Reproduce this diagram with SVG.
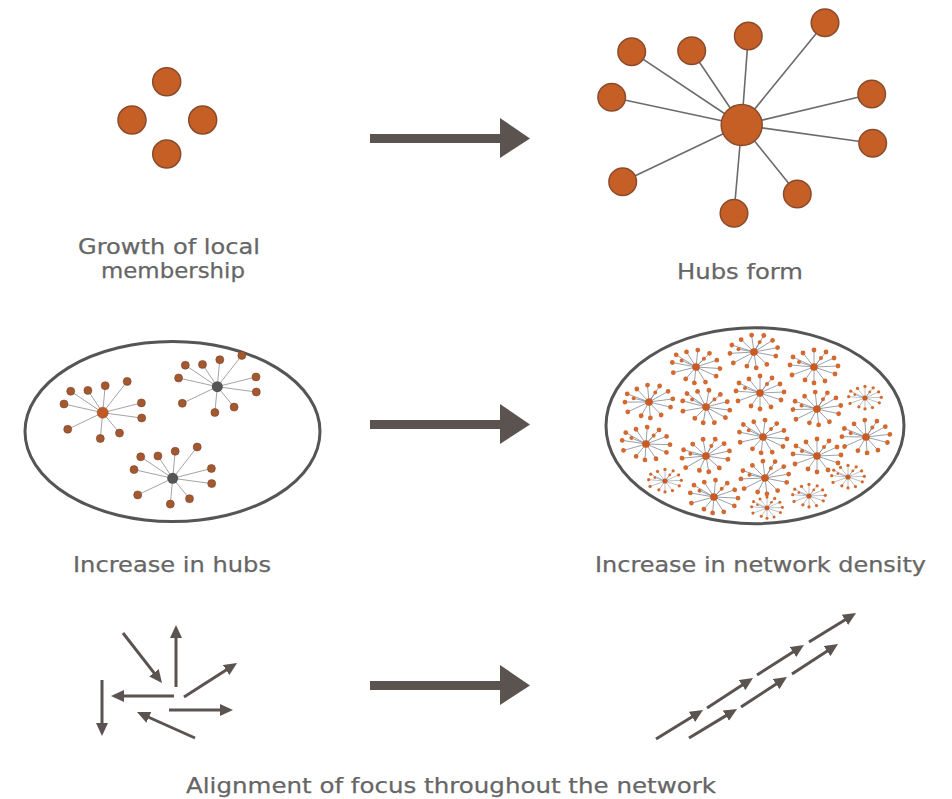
<svg xmlns="http://www.w3.org/2000/svg" xmlns:xlink="http://www.w3.org/1999/xlink" width="952" height="799" viewBox="0 0 952 799">
<style>
.lbl{font-family:"DejaVu Sans","Liberation Sans",sans-serif;font-size:21.5px;fill:#666;stroke:#666;stroke-width:0.25}
.sat{fill:#c65f26;stroke:#8a4b2c;stroke-width:1.5}
.spoke{stroke:#6b6b6b;stroke-width:1.6;fill:none}
.big{fill:#5b5350}
.sm{stroke:#5b5350;stroke-width:3;fill:none;marker-end:url(#ah)}
.ell{fill:#fff;stroke:#555;stroke-width:3}
</style>
<defs>
<marker id="ah" viewBox="0 0 13 12" markerWidth="13" markerHeight="12" refX="7" refY="6" orient="auto" markerUnits="userSpaceOnUse">
<path d="M0,0 L13,6 L0,12 z" fill="#5b5350"/>
</marker>
<g id="clM">
<path d="M0,0L-32,-21.5M0,0L-14.8,-22.3M0,0L2.5,-27M0,0L24.5,-31.3M0,0L-38.7,-8.7M0,0L38.7,-9.8M0,0L39,5.3M0,0L-35,16.6M0,0L-2.4,25.8M0,0L16.8,20.4" stroke="#9a9a9a" stroke-width="0.9" fill="none"/>
<g fill="#a3582f" stroke="#7a4328" stroke-width="0.6">
<circle cx="-32" cy="-21.5" r="4"/><circle cx="-14.8" cy="-22.3" r="4"/><circle cx="2.5" cy="-27" r="4"/><circle cx="24.5" cy="-31.3" r="4"/><circle cx="-38.7" cy="-8.7" r="4"/><circle cx="38.7" cy="-9.8" r="4"/><circle cx="39" cy="5.3" r="4"/><circle cx="-35" cy="16.6" r="4"/><circle cx="-2.4" cy="25.8" r="4"/><circle cx="16.8" cy="20.4" r="4"/>
</g>
</g>
<g id="starL">
<path d="M0,0L-21,-10M0,0L-11,-14M0,0L0,-17M0,0L12,-15M0,0L20,-9M0,0L24,-1M0,0L21,7M0,0L11,14M0,0L0,16M0,0L-9,13M0,0L-22,8M0,0L-24,-2M0,0L-15,-5M0,0L7,-9" stroke="#7d8590" stroke-width="0.75" fill="none"/>
<g fill="#d4692f">
<circle cx="-21" cy="-10" r="2.4"/><circle cx="-11" cy="-14" r="2.4"/><circle cx="0" cy="-17" r="2.4"/><circle cx="12" cy="-15" r="2.4"/><circle cx="20" cy="-9" r="2.4"/><circle cx="24" cy="-1" r="2.4"/><circle cx="21" cy="7" r="2.4"/><circle cx="11" cy="14" r="2.4"/><circle cx="0" cy="16" r="2.4"/><circle cx="-9" cy="13" r="2.4"/><circle cx="-22" cy="8" r="2.4"/><circle cx="-24" cy="-2" r="2.4"/><circle cx="-15" cy="-5" r="2"/><circle cx="7" cy="-9" r="2"/>
<circle cx="0" cy="0" r="3.8" fill="#c95a22"/>
</g>
</g>
</defs>
<rect width="952" height="799" fill="#fff"/>

<g id="stage1">
<circle class="sat" cx="166.7" cy="81.7" r="14"/>
<circle class="sat" cx="132" cy="120" r="14"/>
<circle class="sat" cx="202.7" cy="120" r="14"/>
<circle class="sat" cx="166.7" cy="154" r="14"/>
<text class="lbl" x="78" y="254" textLength="182" lengthAdjust="spacingAndGlyphs">Growth of local</text>
<text class="lbl" x="101" y="278" textLength="144" lengthAdjust="spacingAndGlyphs">membership</text>
</g>

<g id="stage2">
<path class="spoke" d="M741.7,125L631.7,51.7M741.7,125L691.7,50.7M741.7,125L748.3,36M741.7,125L825,22.7M741.7,125L611.7,97.3M741.7,125L871.7,94M741.7,125L872.7,143.3M741.7,125L622.7,181.7M741.7,125L734,213.3M741.7,125L797.3,194"/>
<circle class="sat" cx="631.7" cy="51.7" r="13.8"/>
<circle class="sat" cx="691.7" cy="50.7" r="13.8"/>
<circle class="sat" cx="748.3" cy="36" r="13.8"/>
<circle class="sat" cx="825" cy="22.7" r="13.8"/>
<circle class="sat" cx="611.7" cy="97.3" r="13.8"/>
<circle class="sat" cx="871.7" cy="94" r="13.8"/>
<circle class="sat" cx="872.7" cy="143.3" r="13.8"/>
<circle class="sat" cx="622.7" cy="181.7" r="13.8"/>
<circle class="sat" cx="734" cy="213.3" r="13.8"/>
<circle class="sat" cx="797.3" cy="194" r="13.8"/>
<circle class="sat" cx="741.7" cy="125" r="20.5"/>
<text class="lbl" x="677" y="279" textLength="126" lengthAdjust="spacingAndGlyphs">Hubs form</text>
</g>

<g id="stage3">
<ellipse class="ell" cx="172.5" cy="431.5" rx="147.5" ry="90"/>
<use href="#clM" x="102.7" y="412.7"/>
<use href="#clM" x="217.3" y="386.7"/>
<use href="#clM" x="172.7" y="478.3"/>
<circle cx="102.7" cy="412.7" r="5.5" fill="#c05a22" stroke="#8a4b2c" stroke-width="0.6"/>
<circle cx="217.3" cy="386.7" r="5.5" fill="#555"/>
<circle cx="172.7" cy="478.3" r="5.5" fill="#555"/>
<text class="lbl" x="73" y="571.5" textLength="198" lengthAdjust="spacingAndGlyphs">Increase in hubs</text>
</g>

<g id="stage4">
<ellipse class="ell" cx="755" cy="425.7" rx="149" ry="98"/>
<use href="#starL" transform="translate(754,352) rotate(-8)"/>
<use href="#starL" transform="translate(696,367) rotate(6)"/>
<use href="#starL" transform="translate(814,367)"/>
<use href="#starL" transform="translate(649,402) rotate(-5)"/>
<use href="#starL" transform="translate(706,407) rotate(10)"/>
<use href="#starL" transform="translate(760,393)"/>
<use href="#starL" transform="translate(817,409) rotate(-6)"/>
<use href="#starL" transform="translate(865,398) scale(0.68)"/>
<use href="#starL" transform="translate(646,444) rotate(4)"/>
<use href="#starL" transform="translate(706,456) rotate(-10)"/>
<use href="#starL" transform="translate(763,437) rotate(7)"/>
<use href="#starL" transform="translate(817,456)"/>
<use href="#starL" transform="translate(866,437) rotate(-4)"/>
<use href="#starL" transform="translate(665,481) scale(0.68)"/>
<use href="#starL" transform="translate(714,497) rotate(5)"/>
<use href="#starL" transform="translate(765,478) rotate(-7)"/>
<use href="#starL" transform="translate(809,496) scale(0.68)"/>
<use href="#starL" transform="translate(848,477) scale(0.68)"/>
<use href="#starL" transform="translate(767,508) scale(0.64)"/>
<text class="lbl" x="595" y="572" textLength="331" lengthAdjust="spacingAndGlyphs">Increase in network density</text>
</g>

<g id="stage5">
<line class="sm" x1="123" y1="633" x2="158.3" y2="678.3"/>
<line class="sm" x1="176" y1="687" x2="176" y2="631"/>
<line class="sm" x1="184" y1="697" x2="232" y2="666.2"/>
<line class="sm" x1="174" y1="696" x2="117" y2="696"/>
<line class="sm" x1="169" y1="710" x2="227" y2="710"/>
<line class="sm" x1="195" y1="738" x2="142.5" y2="714.5"/>
<line class="sm" x1="102" y1="680" x2="102" y2="730"/>
</g>

<g id="stage6">
<line class="sm" x1="656" y1="739" x2="697.9" y2="713.2"/>
<line class="sm" x1="707" y1="708" x2="748" y2="681.3"/>
<line class="sm" x1="757" y1="675" x2="798.9" y2="648.2"/>
<line class="sm" x1="809" y1="642" x2="850.9" y2="616.2"/>
<line class="sm" x1="689" y1="738" x2="731.9" y2="712.1"/>
<line class="sm" x1="741" y1="707" x2="782" y2="680.3"/>
<line class="sm" x1="792" y1="674" x2="833" y2="647.3"/>
<text class="lbl" x="186" y="793" textLength="530" lengthAdjust="spacingAndGlyphs">Alignment of focus throughout the network</text>
</g>

<g id="connectors">
<rect class="big" x="370" y="134" width="131" height="9"/>
<path class="big" d="M500,118 L530,138.5 L500,158 z"/>
<rect class="big" x="370" y="420" width="131" height="9"/>
<path class="big" d="M500,404 L530,424.5 L500,444 z"/>
<rect class="big" x="370" y="681" width="131" height="9"/>
<path class="big" d="M500,665 L530,685.5 L500,705 z"/>
</g>
</svg>
